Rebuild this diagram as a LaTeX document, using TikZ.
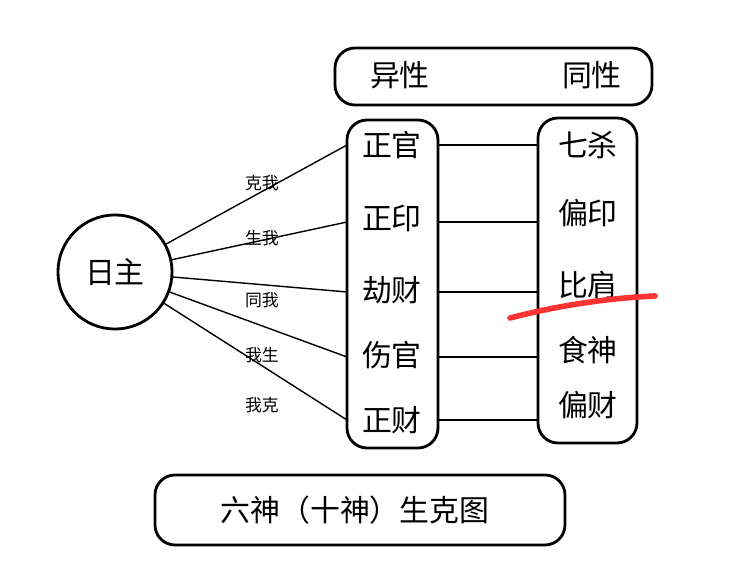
\documentclass[tikz,border=0pt]{standalone}
\usepackage{fontspec}
\setmainfont{Noto Sans CJK SC}
\usetikzlibrary{positioning}
\tikzstyle{frame}=[draw, rounded corners=2mm, thick]
\tikzstyle{big}=[font=\fontsize{8.5}{10}\selectfont, inner sep=0pt]
\tikzstyle{small}=[font=\fontsize{4.8}{6}\selectfont, inner sep=0pt]
\tikzstyle{link}=[thin]
\begin{document}
\begin{tikzpicture}[x=0.01cm, y=-0.01cm]
\useasboundingbox (0,0) rectangle (747,576);
% boxes
\draw[style=frame] (335,48) rectangle (652,105);
\draw[style=frame] (347,120) rectangle (438,448);
\draw[style=frame] (538,118) rectangle (637,443);
\draw[style=frame] (155,475) rectangle (565,545);
\node[big] (yx) at (400,75) {异性};
\node[big] (tx) at (592,75) {同性};
\node[big] (title) at (355,510) {六神（十神）生克图};
% sun master
\node[draw, thick, circle, minimum size=1.14cm, big] (rz) at (115,272) {日主};
% left column
\foreach \N/\T/\Y in {a/正官/145, b/正印/218, c/劫财/290, d/伤官/355, e/正财/420}
  \node[big] (L\N) at (392,\Y) {\T};
% right column
\foreach \N/\T/\Y in {a/七杀/145, b/偏印/213, c/比肩/285, d/食神/350, e/偏财/405}
  \node[big] (R\N) at (588,\Y) {\T};
% edge points
\foreach \N/\Y in {a/145, b/222, c/292, d/357, e/420} {
  \coordinate (P\N) at (347,\Y);
  \coordinate (Q\N) at (438,\Y);
  \coordinate (S\N) at (538,\Y);
}
\foreach \N in {a,b,c,d,e} {
  \draw[style=link] (rz) -- (P\N);
  \draw[style=link] (Q\N) -- (S\N);
}
\node[small] (ka) at (262,183) {克我};
\node[small] (kb) at (262,238) {生我};
\node[small] (kc) at (262,300) {同我};
\node[small] (kd) at (262,355) {我生};
\node[small] (ke) at (262,405) {我克};
% red mark
\coordinate (m1) at (510,318);
\coordinate (m2) at (655,296);
\draw[red!80, line width=1.6pt, line cap=round] (m1) .. controls (560,305) and (610,298) .. (m2);
\end{tikzpicture}
\end{document}
